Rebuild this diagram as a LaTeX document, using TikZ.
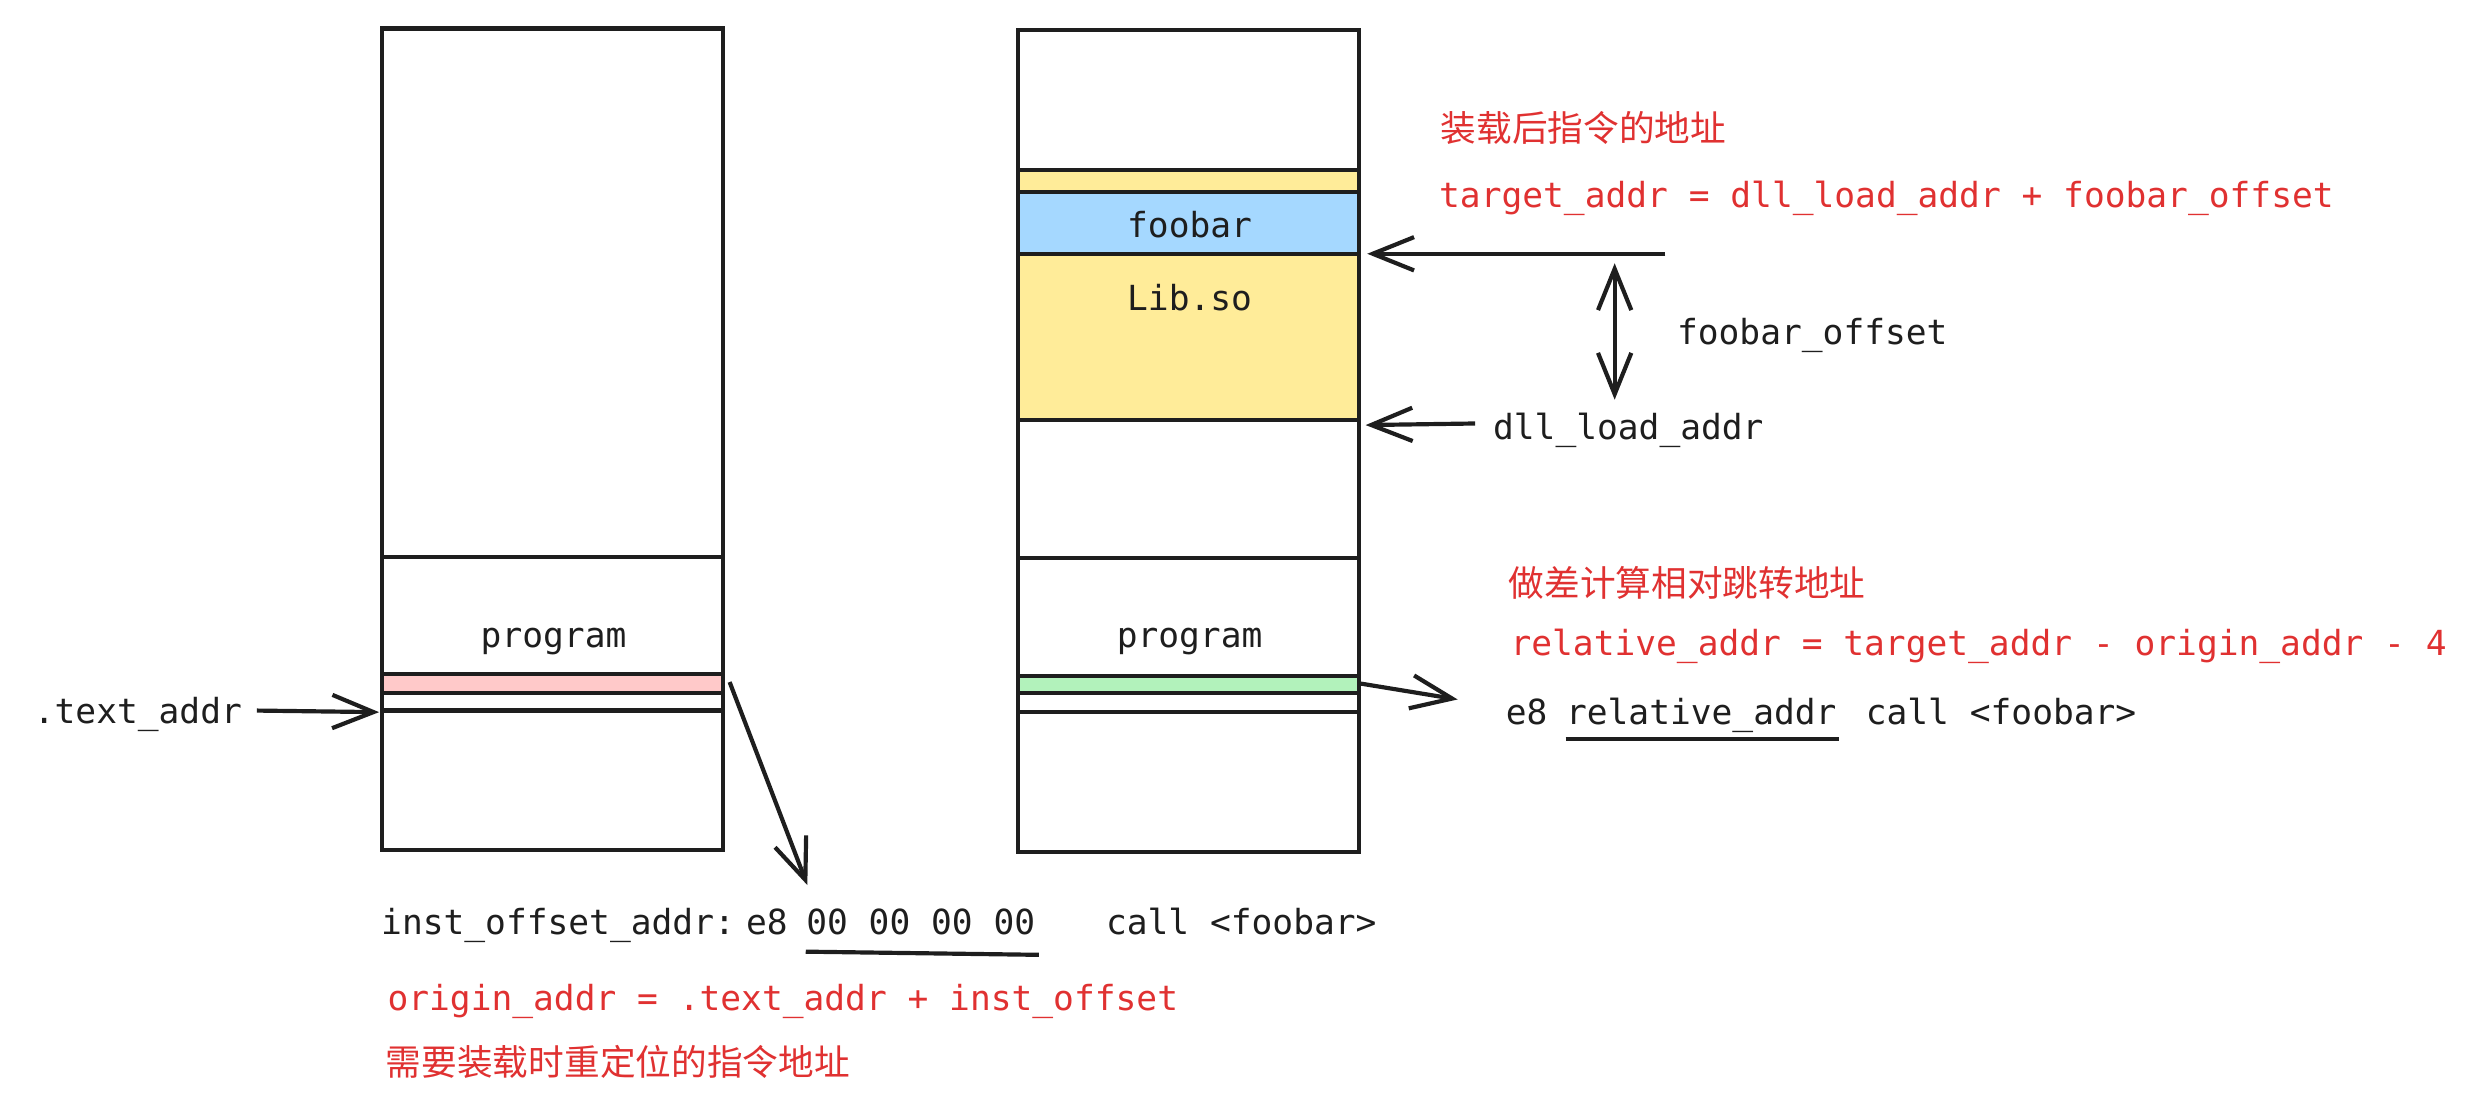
\documentclass[tikz,border=0pt]{standalone}
\usepackage{fontspec}
\setmonofont{DejaVu Sans Mono}
\newfontfamily\cjkfont{Noto Sans CJK SC}
\usepackage{tikz}
\usetikzlibrary{arrows.meta, calc, positioning}
\definecolor{ink}{HTML}{1E1E1E}
\definecolor{inkred}{HTML}{E03131}
\definecolor{pinkfill}{HTML}{FFC9C9}
\definecolor{yellowfill}{HTML}{FFEC99}
\definecolor{bluefill}{HTML}{A5D8FF}
\definecolor{greenfill}{HTML}{B2F2BB}
\tikzset{
	x=0.02cm, y=-0.02cm,
	mem/.style = {draw=ink, line width=1.5pt},
	lbl/.style = {font=\ttfamily\fontsize{12.4}{14}\selectfont, text=ink, inner sep=0pt, anchor=base west},
	boxlbl/.style = {lbl, anchor=base},
	note/.style = {lbl, text=inkred},
	cjk/.style = {font=\cjkfont\fontsize{12.8}{15}\selectfont, text=inkred, inner sep=0pt, anchor=base west},
	ptr/.style = {-{Straight Barb[length=0.52cm, width=0.42cm]}, draw=ink, line width=1.5pt},
	dptr/.style = {ptr, {Straight Barb[length=0.52cm, width=0.42cm]}-{Straight Barb[length=0.52cm, width=0.42cm]}}
}

\begin{document}
\begin{tikzpicture}
	\useasboundingbox (0,0) rectangle (1568,689);
	
	% left column
	\fill[pinkfill] (241,425) rectangle (456,437);
	\draw[mem] (241,18) rectangle (456,536);
	\foreach \y in {351,425,437,448}
		\draw[mem] (241,\y) -- (456,\y);
	\node[boxlbl] (progl) at (349,408) {program};
	
	% right column
	\fill[yellowfill] (642,107) rectangle (857,121);
	\fill[bluefill] (642,121) rectangle (857,160);
	\fill[yellowfill] (642,160) rectangle (857,265);
	\fill[greenfill] (642,426) rectangle (857,437);
	\draw[mem] (642,19) rectangle (857,537);
	\foreach \y in {107,121,160,265,352,426,437,449}
		\draw[mem] (642,\y) -- (857,\y);
	\node[boxlbl] (foobar) at (750,150) {foobar};
	\node[boxlbl] (libso) at (750,195.5) {Lib.so};
	\node[boxlbl] (progr) at (750,408) {program};
	
	% labels
	\node[lbl] (textaddr) at (21,456) {.text\_addr};
	\node[lbl] (instaddr) at (240,589) {inst\_offset\_addr:};
	\node[lbl] (opl) at (470,589) {e8};
	\node[lbl] (zeros) at (508,589) {00 00 00 00};
	\node[lbl] (calll) at (697,589) {call <foobar>};
	\node[note] (origin) at (244,637) {origin\_addr = .text\_addr + inst\_offset};
	\node[cjk] (relocnote) at (243,678) {需要装载时重定位的指令地址};
	
	\node[cjk] (targetnote) at (908,89) {装载后指令的地址};
	\node[note] (target) at (907,131) {target\_addr = dll\_load\_addr + foobar\_offset};
	\node[lbl] (offset) at (1057,217) {foobar\_offset};
	\node[lbl] (dllload) at (941,277) {dll\_load\_addr};
	\node[cjk] (diffnote) at (951,376) {做差计算相对跳转地址};
	\node[note] (relative) at (952,413) {relative\_addr = target\_addr - origin\_addr - 4};
	\node[lbl] (opr) at (949,457) {e8};
	\node[lbl] (reladdr) at (987,457) {relative\_addr};
	\node[lbl] (callr) at (1176,457) {call <foobar>};
	
	% connector ends
	\coordinate (tailtext) at (162,448);
	\coordinate (headtext) at (239,449);
	\coordinate (tailpink) at (460,430);
	\coordinate (headinst) at (509,558);
	\coordinate (tailtarget) at (1050,160);
	\coordinate (headfoobar) at (862,160);
	\coordinate (offtop) at (1018,166);
	\coordinate (offbot) at (1018,252);
	\coordinate (taildll) at (930,267);
	\coordinate (headdll) at (861,268);
	\coordinate (tailgreen) at (858,431);
	\coordinate (headcall) at (919,441);
	
	% pointers
	\draw[ptr] (tailtext) -- (headtext);
	\draw[ptr] (tailpink) -- (headinst);
	\draw[ptr] (tailtarget) -- (headfoobar);
	\draw[dptr] (offtop) -- (offbot);
	\draw[ptr] (taildll) -- (headdll);
	\draw[ptr] (tailgreen) -- (headcall);
	
	% underlines
	\draw[mem] ($(zeros.base west)+(0,11)$) -- ($(zeros.base east)+(2,13)$);
	\draw[mem] ($(reladdr.base west)+(0,9)$) -- ($(reladdr.base east)+(1,9)$);
\end{tikzpicture}
\end{document}
